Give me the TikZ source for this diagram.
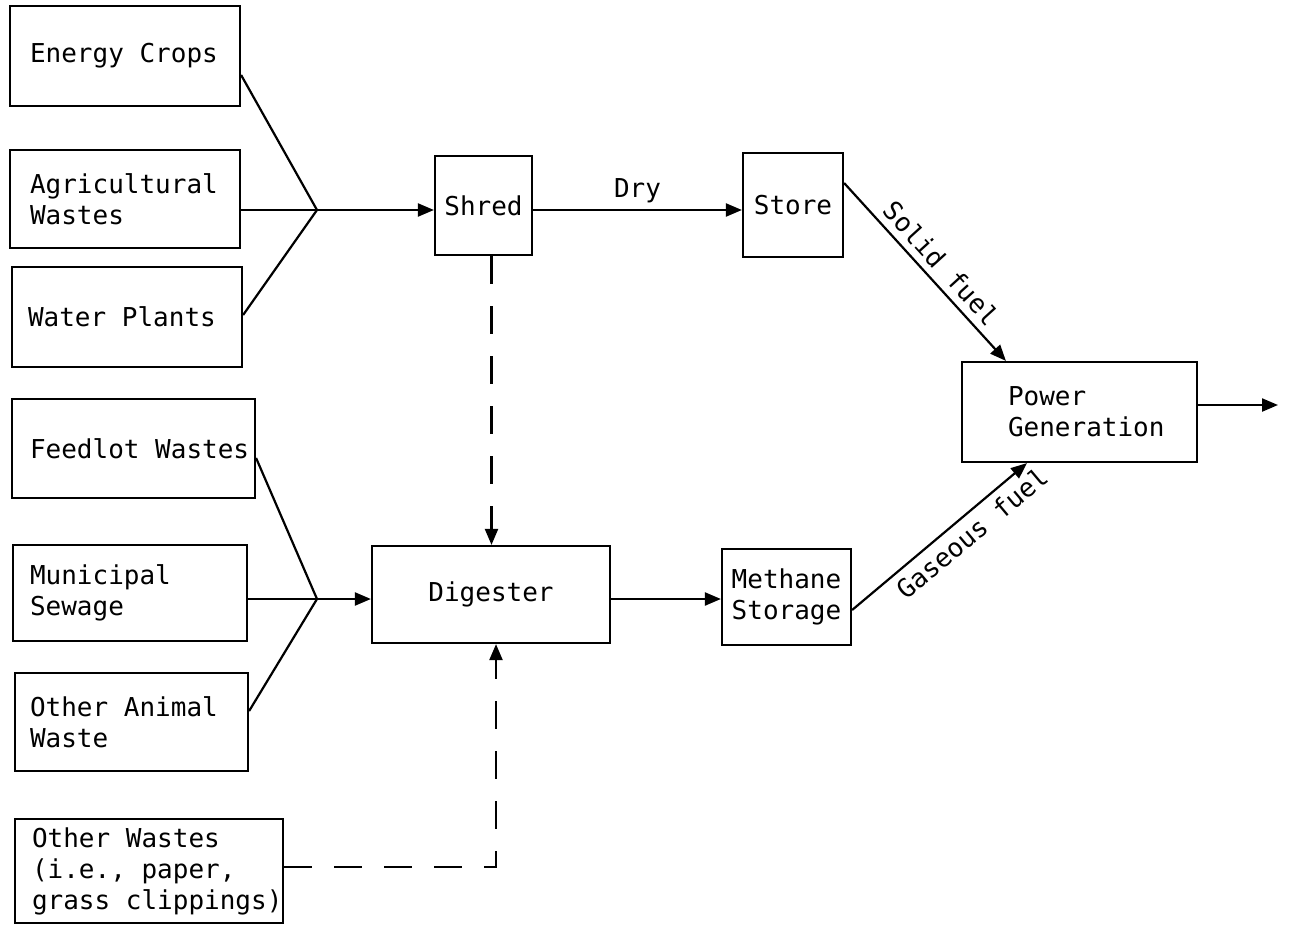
\documentclass[tikz,border=0pt]{standalone}
\usepackage{fontspec}
\newfontfamily\monof{DejaVu Sans Mono}
\usetikzlibrary{arrows.meta,calc}
\newcommand{\fixsp}{\spaceskip=0pt\xspaceskip=0pt\relax}
\begin{document}
\begin{tikzpicture}[x=1pt,y=-1pt,
  box/.style={draw, line width=2.2pt, inner sep=0pt, align=left, font=\monof\fontsize{26}{31}\selectfont},
  sbox/.style={draw, line width=2.2pt, inner sep=0pt, align=center, font=\monof\fontsize{26}{31}\selectfont},
  lbl/.style={font=\monof\fontsize{26}{31}\selectfont, inner sep=2pt},
  conn/.style={line width=2.2pt},
  arr/.style={conn, -{Triangle[length=16pt,width=13pt]}},
  dashln/.style={conn, dash pattern=on 28pt off 22pt},
]
\fill[white] (0,0) rectangle (1289,924);
\useasboundingbox (0,0) rectangle (1289,924);

% source boxes
\node[box, minimum width=230pt, minimum height=100pt, text width=190pt] (ec) at (125,56) {\fixsp\mbox{Energy Crops}};
\node[box, minimum width=230pt, minimum height=98pt, text width=190pt] (aw) at (125,199) {Agricultural\\Wastes};
\node[box, minimum width=230pt, minimum height=100pt, text width=198pt] (wp) at (127,317) {\fixsp\mbox{Water Plants}};
\node[box, minimum width=243pt, minimum height=99pt, text width=207pt] (fw) at (133.5,448.5) {\fixsp\mbox{Feedlot Wastes}};
\node[box, minimum width=234pt, minimum height=96pt, text width=200pt] (ms) at (130,593) {Municipal\\Sewage};
\node[box, minimum width=233pt, minimum height=98pt, text width=203pt] (oaw) at (131.5,722) {\fixsp\mbox{Other Animal}\\Waste};
\node[box, minimum width=268pt, minimum height=104pt, text width=234pt] (ow) at (149,871) {\fixsp\mbox{Other Wastes}\\\mbox{(i.e., paper,}\\\mbox{grass clippings)}};

% process boxes
\node[sbox, minimum width=97pt, minimum height=99pt] (shred) at (483.5,205.5) {Shred};
\node[sbox, minimum width=100pt, minimum height=104pt] (store) at (793,205) {Store};
\node[sbox, minimum width=238pt, minimum height=97pt] (dig) at (491,594.5) {Digester};
\node[box, minimum width=129pt, minimum height=96pt] (meth) at (786.5,597) {Methane\\Storage};
\node[box, minimum width=235pt, minimum height=100pt, text width=143pt] (pow) at (1079.5,412) {Power\\\mbox{Generation}};

% junctions
\coordinate (j1) at (317,210);
\coordinate (j2) at (317,599);
\coordinate (out) at (1278,405);

% upper group
\draw[conn] ([yshift=-19pt]ec.east) -- (j1);
\draw[conn] ([yshift=-11pt]aw.east) -- (j1);
\draw[conn] ([yshift=2pt]wp.east) -- (j1);
\draw[arr] (j1) -- (j1 -| shred.west);
\draw[arr] (j1 -| shred.east) -- node[lbl, above=4pt] {Dry} (j1 -| store.west);

% lower group
\draw[conn] ([yshift=-9.5pt]fw.east) -- (j2);
\draw[conn] (ms.east |- j2) -- (j2);
\draw[conn] ([yshift=11pt]oaw.east) -- (j2);
\draw[arr] (j2) -- (j2 -| dig.west);
\draw[arr] ([yshift=-4.5pt]dig.east) -- ([yshift=-4.5pt]dig.east -| meth.west);

% dashed feeds
\draw[dashln, arr] ([xshift=8pt]shred.south) -- ([xshift=8pt]shred.south |- dig.north);
\draw[dashln, arr] ([yshift=4pt]ow.east) -| ([xshift=5pt]dig.south);

% fuels
\draw[arr] ([yshift=22pt]store.east) -- node[lbl, sloped, above=5pt, pos=0.52] {Solid fuel} ([xshift=45pt]pow.north west);
\draw[arr] ([yshift=-13pt]meth.east) -- node[lbl, sloped, below=5pt, pos=0.62] {Gaseous fuel} ([xshift=66pt]pow.south west);
\draw[arr] ([yshift=7pt]pow.east) -- (out);
\end{tikzpicture}
\end{document}
